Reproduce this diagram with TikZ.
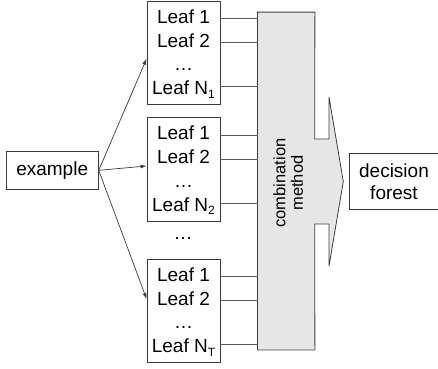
\documentclass[tikz,border=0pt]{standalone}
\usepackage{fontspec}
\setmainfont{Liberation Sans}
\usepackage{xcolor}
\usetikzlibrary{arrows.meta, positioning, calc}
\definecolor{trait}{HTML}{3C3C3C}
\definecolor{fond}{HTML}{E6E6E6}
\newcommand{\leafsub}[1]{\raisebox{-3.5pt}{\fontsize{12}{12}\selectfont #1}}

\begin{document}
\begin{tikzpicture}[x=1pt, y=-1pt]
    % Styles
    \tikzset{
        box/.style     = {rectangle, draw=trait, line width=0.8pt, inner sep=0pt},
        leaf/.style    = {inner sep=0pt, text height=14pt, text depth=4pt, font=\fontsize{19}{22}\selectfont},
        line/.style    = {draw=trait!85, line width=0.8pt},
        arrow/.style   = {draw=trait, line width=0.7pt, -{Latex[length=6pt,width=4pt]}},
        combine/.style = {draw=trait, line width=0.8pt, fill=fond}
    }
    \useasboundingbox (0,0) rectangle (438,368);

    % Méthode de combinaison (flèche grise)
    \node [inner sep=0pt, minimum width=57pt, minimum height=337.4pt] (comb) at (286.2,181) {};
    \draw [combine] (comb.north west) -- (comb.north east) -- (314.7,139) -- (329,139) -- (329,97)
        -- (343.3,181.5) -- (329,266) -- (329,224) -- (314.7,224) -- (comb.south east)
        -- (comb.south west) -- cycle;
    \node [rotate=90, align=center, font=\fontsize{16.5}{17.5}\selectfont] (combtext) at (288.3,183) {combination\\method};

    % Exemple d'entrée
    \node [box, minimum width=92.3pt, minimum height=37.3pt, font=\fontsize{19}{22}\selectfont] (example) at (52.2,170.3) {example};

    % Arbres et leurs feuilles
    \foreach \top/\i/\sub in {1/1/1, 117.5/2/2, 259/3/T} {
        \node [box, minimum width=73pt, minimum height=103.5pt] (tree\i) at (183.5,\top+51.75) {};
        \node [leaf] (leafa\i) at ([yshift=-17.8pt]tree\i.north) {Leaf 1};
        \node [leaf] (leafb\i) at ([yshift=-41.8pt]tree\i.north) {Leaf 2};
        \node [leaf] (dots\i) at ([yshift=-65pt]tree\i.north) {\dots};
        \node [leaf] (leafn\i) at ([yshift=-89pt]tree\i.north) {Leaf N\leafsub{\sub}};
        \draw [line] (leafa\i -| tree\i.east) -- (leafa\i -| comb.west);
        \draw [line] (leafb\i -| tree\i.east) -- (leafb\i -| comb.west);
        \draw [line] ([yshift=3.2pt]leafn\i -| tree\i.east) -- ([yshift=3.2pt]leafn\i -| comb.west);
    }
    \node [leaf] (gap) at (183,234.5) {\dots};

    % Forêt de décision
    \node [box, minimum width=89.5pt, minimum height=55.7pt, align=center, font=\fontsize{19}{22}\selectfont] (forest) at (394,181.5) {decision\\forest};

    % Connexions
    \draw [arrow] (example.east) -- ([yshift=-6pt]tree1.west);
    \draw [arrow] (example.east) -- ([yshift=3.25pt]tree2.west);
    \draw [arrow] (example.east) -- ([yshift=11.75pt]tree3.west);
\end{tikzpicture}
\end{document}
